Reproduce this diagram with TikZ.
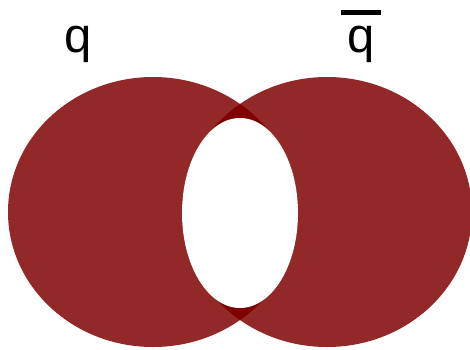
\documentclass[tikz,border=0pt]{standalone}
\usepackage{fontspec}
\setmainfont{Liberation Sans}
\usetikzlibrary{positioning}
\definecolor{blobred}{RGB}{146,40,40}
\definecolor{lensred}{RGB}{128,0,0}
\tikzset{
	blob/.style={fill=blobred},
	lens/.style={fill=lensred},
	flavour/.style={font=\fontsize{49}{55}\selectfont, inner sep=0pt, anchor=base},
	barline/.style={line width=5pt},
}

\begin{document}
\begin{tikzpicture}[x=1pt, y=-1pt]
	\useasboundingbox (0,0) rectangle (470,349);

	% Quark and antiquark blobs
	\fill[blob] (153,212) ellipse [x radius=145pt, y radius=135pt];
	\fill[blob] (327,212) ellipse [x radius=145pt, y radius=135pt];

	% Overlap of the two blobs
	\begin{scope}
		\clip (153,212) ellipse [x radius=145pt, y radius=135pt];
		\fill[lens] (327,212) ellipse [x radius=145pt, y radius=135pt];
	\end{scope}

	% Hole in the middle
	\fill[white] (240,213) ellipse [x radius=58pt, y radius=95pt];

	% Labels
	\node[flavour] (q) at (78,52) {q};
	\node[flavour] (qbar) at (361,52) {q};
	\draw[barline] ([xshift=-6pt, yshift=13pt]qbar.north west) -- ([xshift=6pt, yshift=13pt]qbar.north east);
\end{tikzpicture}
\end{document}
